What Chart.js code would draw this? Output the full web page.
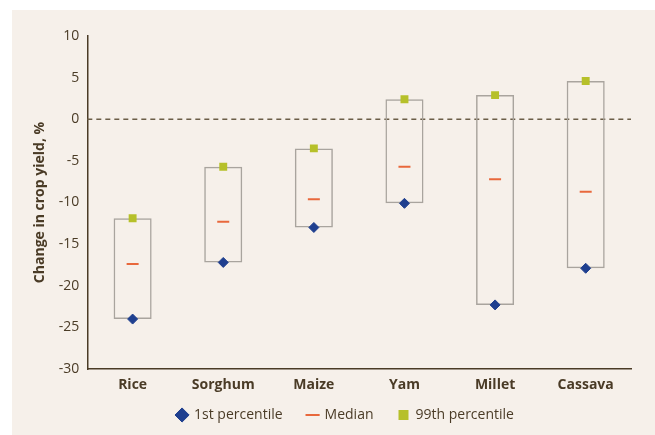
<!DOCTYPE html>
<html>
<head>
<meta charset="utf-8">
<script src="https://cdn.jsdelivr.net/npm/chart.js@4.4.2/dist/chart.umd.min.js"></script>
<style>
  html, body { margin: 0; padding: 0; background: #fff; }
  #wrap { width: 655px; height: 435px; }
</style>
</head>
<body>
<div id="wrap"><canvas id="chart"></canvas></div>
<script>
const crops = ['Rice', 'Sorghum', 'Maize', 'Yam', 'Millet', 'Cassava'];
const p1 = [-24.0, -17.2, -13.0, -10.1, -22.3, -17.9];
const median = [-17.4, -12.3, -9.6, -5.7, -7.2, -8.7];
const p99 = [-11.9, -5.7, -3.5, 2.4, 2.9, 4.6];
const yTicks = { min: -30, max: 10, step: 5 };

const ink = '#4a3b26';
const font = 'Open Sans';

const panelAndZero = {
  id: 'panelAndZero',
  afterLayout(chart) {
    // the legend in the original sits a little right of centre
    chart.legend.left += 14;
    chart.legend.right += 14;
    // x labels overhang the squeezed axis box, so widen its clip
    chart.scales.x.bottom = chart.scales.x.top + 30;
  },
  beforeDraw(chart) {
    const ctx = chart.ctx;
    ctx.save();
    ctx.fillStyle = '#f6f0ea';
    ctx.fillRect(12, 10, chart.width - 12, chart.height - 10);
    ctx.restore();
  },
  beforeDatasetsDraw(chart) {
    const { ctx, chartArea, scales } = chart;
    const y = scales.y.getPixelForValue(0);
    ctx.save();
    ctx.strokeStyle = '#6b5d47';
    ctx.lineWidth = 1.5;
    ctx.setLineDash([5, 4]);
    ctx.beginPath();
    ctx.moveTo(chartArea.left, y);
    ctx.lineTo(chartArea.right, y);
    ctx.stroke();
    ctx.restore();
  }
};

new Chart(document.getElementById('chart'), {
  type: 'bar',
  data: {
    labels: crops,
    datasets: [
      {
        type: 'line',
        label: '1st percentile',
        data: p1,
        showLine: false,
        pointStyle: 'rectRot',
        pointRadius: 5,
        backgroundColor: '#1f3f8f',
        borderColor: '#1f3f8f',
        borderWidth: 1,
        order: 1
      },
      {
        type: 'line',
        label: 'Median',
        data: median,
        showLine: false,
        pointStyle: 'line',
        pointRadius: 6,
        backgroundColor: '#e8683c',
        borderColor: '#e8683c',
        borderWidth: 2,
        order: 2
      },
      {
        type: 'line',
        label: '99th percentile',
        data: p99,
        showLine: false,
        pointStyle: 'rect',
        pointRadius: 5.6,
        backgroundColor: '#b6c02a',
        borderColor: '#b6c02a',
        borderWidth: 0,
        order: 3
      },
      {
        label: 'range',
        data: crops.map((c, i) => [p1[i], p99[i]]),
        backgroundColor: 'rgba(0,0,0,0)',
        borderColor: '#a9a49e',
        borderWidth: 1.5,
        borderSkipped: false,
        categoryPercentage: 1,
        barPercentage: 0.42,
        order: 4
      }
    ]
  },
  options: {
    responsive: true,
    maintainAspectRatio: false,
    animation: false,
    layout: {
      padding: { left: 32, right: 24, top: 36, bottom: 3 }
    },
    scales: {
      x: {
        grid: { display: false, drawTicks: false },
        border: { display: true, color: ink, width: 1.5 },
        ticks: {
          color: ink,
          padding: 8,
          font: { family: font, size: 14, weight: 'bold' }
        },
        afterFit: (scale) => { scale.height = 14; }
      },
      y: {
        min: yTicks.min,
        max: yTicks.max,
        grid: { display: false, drawTicks: false },
        border: { display: true, color: ink, width: 1.5 },
        ticks: {
          stepSize: yTicks.step,
          color: ink,
          padding: 8,
          font: { family: font, size: 14 }
        },
        title: {
          display: true,
          text: 'Change in crop yield, %',
          color: ink,
          padding: { top: 0, bottom: 2 },
          font: { family: font, size: 14, weight: 'bold' }
        }
      }
    },
    plugins: {
      tooltip: { enabled: false },
      legend: {
        position: 'bottom',
        labels: {
          usePointStyle: true,
          boxWidth: 10,
          boxHeight: 10,
          padding: 25,
          color: ink,
          font: { family: font, size: 14 },
          filter: (item) => item.text !== 'range'
        }
      }
    }
  },
  plugins: [panelAndZero]
});
</script>
</body>
</html>
